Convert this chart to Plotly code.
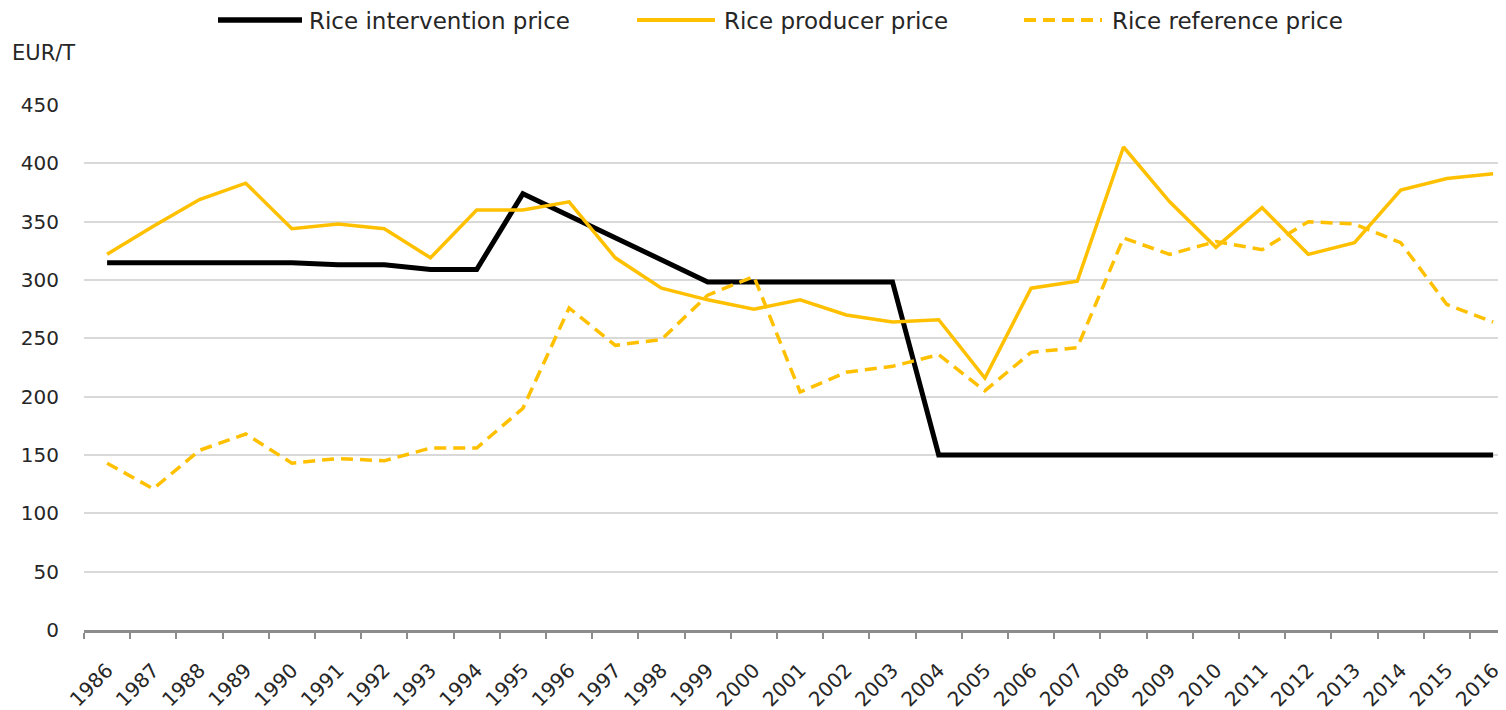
import plotly.graph_objects as go

years = [str(y) for y in range(1986, 2017)]

intervention = [314.8, 314.8, 314.8, 314.8, 314.8, 313, 313, 309, 309,
                374, 355, 336, 317, 298.35, 298.35, 298.35, 298.35, 298.35,
                150, 150, 150, 150, 150, 150, 150, 150, 150, 150, 150, 150, 150]

producer = [322, 346, 369, 383, 344, 348, 344, 319, 360,
            360, 367, 319, 293, 283, 275, 283, 270, 264, 266,
            216, 293, 299, 414, 367, 328, 362, 322, 332, 377, 387, 391]

reference = [143, 121, 154, 168, 143, 147, 145, 156, 156,
             190, 276, 244, 249, 287, 303, 204, 221, 226, 236,
             205, 238, 242, 336, 322, 333, 326, 350, 348, 332, 279, 264]

names = ["Rice intervention price", "Rice producer price", "Rice reference price"]

FONT = "DejaVu Sans"
TXT = "#262626"
GOLD = "#FFC000"
DASH = "12px,7px"

# the page body adds an 8px offset; figure coordinates are page coords - 8
OFF = 8
W, H = 1506, 710
ML, MR, MT, MB = 84 - OFF, 0, 105 - OFF, H - (630 - OFF)
PW, PH = W - ML - MR, H - MT - MB


def px_x(px):
    return (px - OFF - ML) / PW


def px_y(py):
    return (H - MB - (py - OFF)) / PH


fig = go.Figure()
styles = [dict(color="#000000", width=5),
          dict(color=GOLD, width=3.5),
          dict(color=GOLD, width=3.5, dash=DASH)]
for nm, vals, st in zip(names, [intervention, producer, reference], styles):
    fig.add_trace(go.Scatter(x=years, y=vals, mode="lines", name=nm,
                             line=st, showlegend=False))

# manual legend (line samples + labels), positions in page pixels
legend_pos = [(218, 302, 310), (637, 715, 725), (1024, 1102, 1113)]
shapes = []
annotations = []
for (x0, x1, xt), nm, st in zip(legend_pos, names, styles):
    shapes.append(dict(type="line", xref="paper", yref="paper",
                       x0=px_x(x0), x1=px_x(x1), y0=px_y(20), y1=px_y(20),
                       line=dict(color=st["color"], width=st["width"] + 0.5,
                                 dash=st.get("dash", "solid"))))
    annotations.append(dict(text=nm, xref="paper", yref="paper",
                            x=px_x(xt - 3), y=px_y(21), xanchor="left", yanchor="middle",
                            showarrow=False, font=dict(size=23, color=TXT)))

annotations.append(dict(text="EUR/T", xref="paper", yref="paper",
                        x=px_x(10), y=px_y(53), xanchor="left", yanchor="middle",
                        showarrow=False, font=dict(size=21, color=TXT)))

# category width 46.2 px -> range end so that the plot spans to the right edge
span = PW / 46.2

fig.update_layout(
    width=W, height=H,
    margin=dict(l=ML, r=MR, t=MT, b=MB),
    paper_bgcolor="white", plot_bgcolor="white",
    font=dict(family=FONT, size=21, color=TXT),
    showlegend=False,
    xaxis=dict(type="category", range=[-0.5, -0.5 + span], tickson="boundaries",
               ticks="outside", ticklen=6, tickwidth=1.5, tickcolor="#8c8c8c",
               showline=True, linecolor="#8c8c8c", linewidth=2.5,
               showgrid=False, tickangle=-45, automargin=False,
               ticklabelstandoff=18,
               tickfont=dict(size=20, color=TXT)),
    yaxis=dict(range=[0, 450], dtick=50, showgrid=True, gridcolor="#d9d9d9",
               gridwidth=1.5, zeroline=False, showline=False, ticks="",
               automargin=False, ticklabelstandoff=24,
               tickfont=dict(size=20, color=TXT)),
    shapes=shapes,
    annotations=annotations,
)

fig.write_html("out.html")
